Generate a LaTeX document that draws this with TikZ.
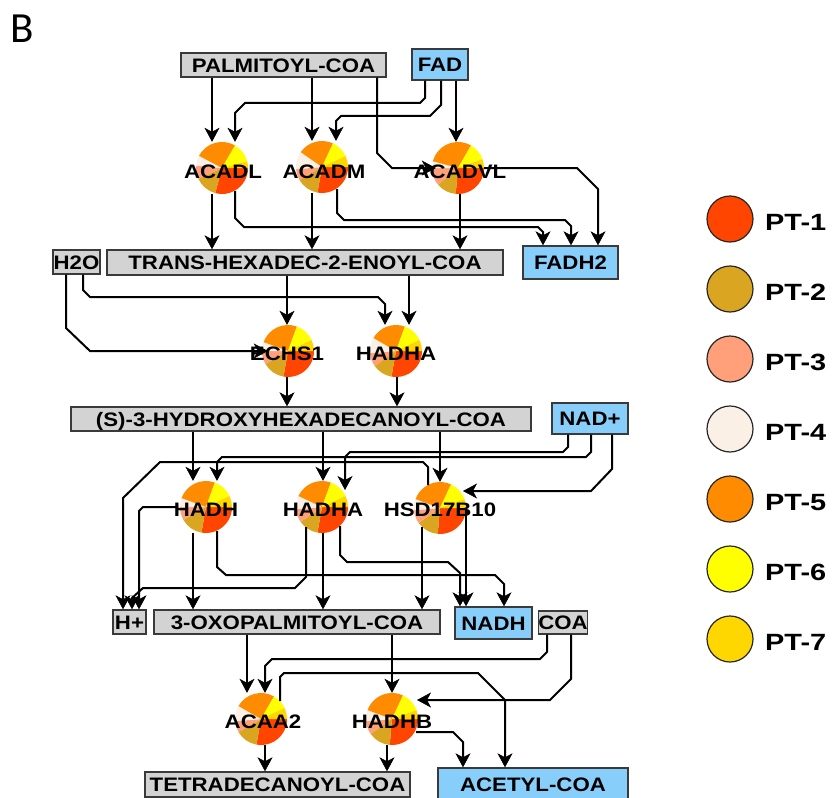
\documentclass[tikz,border=0pt]{standalone}
\usepackage{fontspec}
\setmainfont{Liberation Sans}
\newfontfamily\labfont{Liberation Sans}[FakeStretch=1.14]
\newfontfamily\legfont{Liberation Sans}[FakeStretch=1.23]
\newfontfamily\bfont{Carlito}
\usetikzlibrary{arrows.meta,calc}
\definecolor{pt1}{HTML}{FF4500}
\definecolor{pt2}{HTML}{DAA520}
\definecolor{pt3}{HTML}{FFA07A}
\definecolor{pt4}{HTML}{FAF0E6}
\definecolor{pt5}{HTML}{FF8C00}
\definecolor{pt6}{HTML}{FFFF00}
\definecolor{pt7}{HTML}{FFD700}
\definecolor{grayfill}{HTML}{D3D3D3}
\definecolor{bluefill}{HTML}{87CEFA}
\definecolor{edgecol}{HTML}{3A3A3A}
\newcommand\enzpie[7]{%
 \fill[pt1] (#1.center) -- ++(0:26) arc[start angle=0,end angle=#2,radius=26] -- cycle;
 \fill[pt2] (#1.center) -- ++(#2:26) arc[start angle=#2,end angle=#3,radius=26] -- cycle;
 \fill[pt3] (#1.center) -- ++(#3:26) arc[start angle=#3,end angle=#4,radius=26] -- cycle;
 \fill[pt4] (#1.center) -- ++(#4:26) arc[start angle=#4,end angle=#5,radius=26] -- cycle;
 \fill[pt5] (#1.center) -- ++(#5:26) arc[start angle=#5,end angle=#6,radius=26] -- cycle;
 \fill[pt6] (#1.center) -- ++(#6:26) arc[start angle=#6,end angle=#7,radius=26] -- cycle;
 \fill[pt7] (#1.center) -- ++(#7:26) arc[start angle=#7,end angle=360,radius=26] -- cycle;}
\tikzset{
 gbox/.style={draw=edgecol, line width=1.4pt, fill=grayfill, inner sep=0pt,
   text height=14.2pt, text depth=0pt, font=\labfont\bfseries\fontsize{19.5}{21}\selectfont},
 bbox/.style={gbox, fill=bluefill},
 enz/.style={circle, minimum size=52pt, inner sep=0pt},
 enzlab/.style={inner sep=0pt, text height=14.2pt, text depth=0pt,
   font=\labfont\bfseries\fontsize{19.5}{21}\selectfont},
 tipstyle/.tip={Stealth[length=14pt,width=15pt,inset=4pt,line width=0.6pt]},
 conn/.style={draw=black, line width=2pt, arrows={-tipstyle}},
 legc/.style={circle, draw=black!85, line width=1.2pt, minimum size=46pt, inner sep=0pt},
 legt/.style={anchor=west, inner sep=0pt, text height=17.1pt, text depth=0pt,
   font=\legfont\bfseries\fontsize{23.5}{24}\selectfont},
}
\begin{document}
\begin{tikzpicture}[x=1pt,y=-1pt]
\fill[white] (0,0) rectangle (837,797);
\useasboundingbox (0,0) rectangle (837,797);

\node[anchor=base west, inner sep=0pt, font=\bfont\fontsize{43}{43}\selectfont] (lblB) at (10,43) {B};

% enzyme nodes (pies)
\node[enz] (acadl) at (222,168) {};
\node[enz] (acadm) at (322,167) {};
\node[enz] (acadvl) at (458,168) {};
\node[enz] (echs1) at (288,351) {};
\node[enz] (hadha1) at (396,351) {};
\node[enz] (hadh) at (206,507) {};
\node[enz] (hadha2) at (322,507) {};
\node[enz] (hsd) at (440,508) {};
\node[enz] (acaa2) at (261,719) {};
\node[enz] (hadhb) at (392,719) {};

\enzpie{acadl}{105}{155}{185}{208}{300}{345}
\enzpie{acadm}{100}{150}{175}{215}{295}{335}
\enzpie{acadvl}{95}{140}{180}{195}{300}{340}
\enzpie{echs1}{100}{150}{180}{200}{290}{335}
\enzpie{hadha1}{100}{145}{175}{210}{290}{335}
\enzpie{hadh}{100}{150}{180}{200}{290}{335}
\enzpie{hadha2}{100}{145}{175}{205}{290}{335}
\enzpie{hsd}{95}{145}{175}{200}{295}{340}
\enzpie{acaa2}{100}{150}{175}{210}{300}{335}
\enzpie{hadhb}{95}{145}{175}{200}{295}{340}

% boxes
\node[gbox, minimum width=205pt, minimum height=24pt] (palm) at (283.5,65) {PALMITOYL-COA};
\node[bbox, minimum width=56pt, minimum height=31pt] (fad) at (440,64.5) {FAD};
\node[gbox, minimum width=47pt, minimum height=24pt] (h2o) at (76.5,262) {H2O};
\node[gbox, minimum width=396pt, minimum height=25pt] (trans) at (305,262.5) {TRANS-HEXADEC-2-ENOYL-COA};
\node[bbox, minimum width=95pt, minimum height=33pt] (fadh2) at (570.5,262.5) {FADH2};
\node[gbox, minimum width=460pt, minimum height=24pt] (hydroxy) at (301,419) {(S)-3-HYDROXYHEXADECANOYL-COA};
\node[bbox, minimum width=76pt, minimum height=31pt] (nadp) at (590,418.5) {NAD+};
\node[gbox, minimum width=33pt, minimum height=24pt] (hplus) at (129.5,622) {H+};
\node[gbox, minimum width=286pt, minimum height=24pt] (oxo) at (297,622) {3-OXOPALMITOYL-COA};
\node[bbox, minimum width=77pt, minimum height=32pt] (nadh) at (493.5,623) {NADH};
\node[gbox, minimum width=48pt, minimum height=23pt] (coa) at (563,622.5) {COA};
\node[gbox, minimum width=265pt, minimum height=25pt] (tetra) at (277.5,784.5) {TETRADECANOYL-COA};
\node[bbox, minimum width=190pt, minimum height=32pt] (acetyl) at (533,784) {ACETYL-COA};

% connectors, top
\draw[conn] (212,0 |- palm.south) -- (212,0 |- acadl.north);
\draw[conn] (312,0 |- palm.south) -- (312,0 |- acadm.north);
\draw[conn, shorten >=-4pt] (377,0 |- palm.south) -- (377,153) -- (392,168) -- (acadvl.west);
\draw[conn] (425,0 |- fad.south) -- (425,98) -- (420,103) -- (245,103) -- (235,113) -- (235,0 |- acadl.north);
\draw[conn] (441,0 |- fad.south) -- (441,105) -- (430,116) -- (341,116) -- (336,121) -- (336,0 |- acadm.north);
\draw[conn] (456,0 |- fad.south) -- (456,0 |- acadvl.north);
\draw[conn] (212,0 |- acadl.south) -- (212,0 |- trans.north);
\draw[conn] (312,0 |- acadm.south) -- (312,0 |- trans.north);
\draw[conn] (460,0 |- acadvl.south) -- (460,0 |- trans.north);
\draw[conn] ($(acadl.center)+(13,23)$) -- (235,218) -- (244,227) -- (538,227) -- (543,232) -- (543,0 |- fadh2.north);
\draw[conn] ($(acadm.center)+(15,22)$) -- (337,213) -- (344,220) -- (565,220) -- (571,226) -- (571,0 |- fadh2.north);
\draw[conn] (acadvl.east) -- (577,168) -- (598,189) -- (598,0 |- fadh2.north);

% row 2 to 3
\draw[conn] (287,0 |- trans.south) -- (287,0 |- echs1.north);
\draw[conn] (409,0 |- trans.south) -- (409,0 |- hadha1.north);
\draw[conn, shorten >=-6pt] (66,0 |- h2o.south) -- (66,328) -- (90,351) -- (echs1.west);
\draw[conn] (83,0 |- h2o.south) -- (83,290) -- (90,297) -- (378,297) -- (385,304) -- (385,0 |- hadha1.north);

% row 3 to 4
\draw[conn] (287,0 |- echs1.south) -- (287,0 |- hydroxy.north);
\draw[conn] (397,0 |- hadha1.south) -- (397,0 |- hydroxy.north);

% row 4 to 5
\draw[conn] (193,0 |- hydroxy.south) -- (193,0 |- hadh.north);
\draw[conn] (323,0 |- hydroxy.south) -- (323,0 |- hadha2.north);
\draw[conn] (440,0 |- hydroxy.south) -- (440,0 |- hsd.north);
\draw[conn] (568,0 |- nadp.south) -- (568,447) -- (563,452) -- (350,452) -- (345,457) -- ($(hadha2.center)+(23,-17)$);
\draw[conn] (591,0 |- nadp.south) -- (591,452) -- (586,457) -- (222,457) -- (217,462) -- (217,0 |- hadh.north);
\draw[conn] (612,0 |- nadp.south) -- (612,469) -- (591,491) -- ($(hsd.center)+(23,-17)$);

% row 5 to 6
\draw[conn] ($(hsd.center)+(-12,-23)$) -- (428,467) -- (423,462) -- (160,462) -- (123,498) -- (123,0 |- hplus.north);
\draw[conn] ($(hadha2.center)+(-16,20)$) -- (306,577) -- (295,588) -- (143,588) -- (132,598) -- (132,0 |- hplus.north);
\draw[conn] ($(hadh.center)+(-28,0)$) -- (143,507) -- (139,511) -- (139,0 |- hplus.north);
\draw[conn] (193,0 |- hadh.south) -- (193,0 |- oxo.north);
\draw[conn] (323,0 |- hadha2.south) -- (323,0 |- oxo.north);
\draw[conn] ($(hsd.center)+(-18,19)$) -- (422,0 |- oxo.north);
\draw[conn] ($(hadh.center)+(11,24)$) -- (217,567) -- (226,575) -- (495,575) -- (504,584) -- (504,0 |- nadh.north);
\draw[conn] ($(hadha2.center)+(18,19)$) -- (340,555) -- (347,562) -- (448,562) -- (460,573) -- (460,0 |- nadh.north);
\draw[conn] ($(hsd.center)+(26,2)$) -- (466,0 |- nadh.north);

% row 6 to 7
\draw[conn] (247,0 |- oxo.south) -- (247,0 |- acaa2.north);
\draw[conn] (392,0 |- oxo.south) -- (392,0 |- hadhb.north);
\draw[conn] (547,0 |- coa.south) -- (547,652) -- (540,659) -- (272,659) -- (265,666) -- (265,0 |- acaa2.north);
\draw[conn] (571,0 |- coa.south) -- (571,679) -- (550,700) -- ($(hadhb.center)+(25,-19)$);

% row 7 to 8
\draw[conn] ($(acaa2.center)+(19,-18)$) -- (280,677) -- (284,673) -- (478,673) -- (505,700) -- (505,0 |- acetyl.north);
\draw[conn] ($(hadhb.center)+(24,13)$) -- (453,732) -- (463,742) -- (463,0 |- acetyl.north);
\draw[conn] (265,0 |- acaa2.south) -- (265,0 |- tetra.north);
\draw[conn] (387,0 |- hadhb.south) -- (387,0 |- tetra.north);

% enzyme labels
\node[enzlab] (acadl-t) at ($(acadl.center)+(1,3)$) {ACADL};
\node[enzlab] (acadm-t) at ($(acadm.center)+(2,4)$) {ACADM};
\node[enzlab] (acadvl-t) at ($(acadvl.center)+(2,3)$) {ACADVL};
\node[enzlab] (echs1-t) at ($(echs1.center)+(-1,2)$) {ECHS1};
\node[enzlab] (hadha1-t) at ($(hadha1.center)+(0,2)$) {HADHA};
\node[enzlab] (hadh-t) at ($(hadh.center)+(0,2)$) {HADH};
\node[enzlab] (hadha2-t) at ($(hadha2.center)+(1,2)$) {HADHA};
\node[enzlab] (hsd-t) at ($(hsd.center)+(0,1)$) {HSD17B10};
\node[enzlab] (acaa2-t) at ($(acaa2.center)+(2,2)$) {ACAA2};
\node[enzlab] (hadhb-t) at ($(hadhb.center)+(0,2)$) {HADHB};

% legend
\foreach \i/\yy in {1/219,2/289,3/359,4/429,5/499,6/569,7/639}{
  \node[legc, fill=pt\i] (leg\i) at (730,\yy) {};
  \node[legt] (leg\i-t) at (765,\yy+3) {PT-\i};
}
\end{tikzpicture}
\end{document}
